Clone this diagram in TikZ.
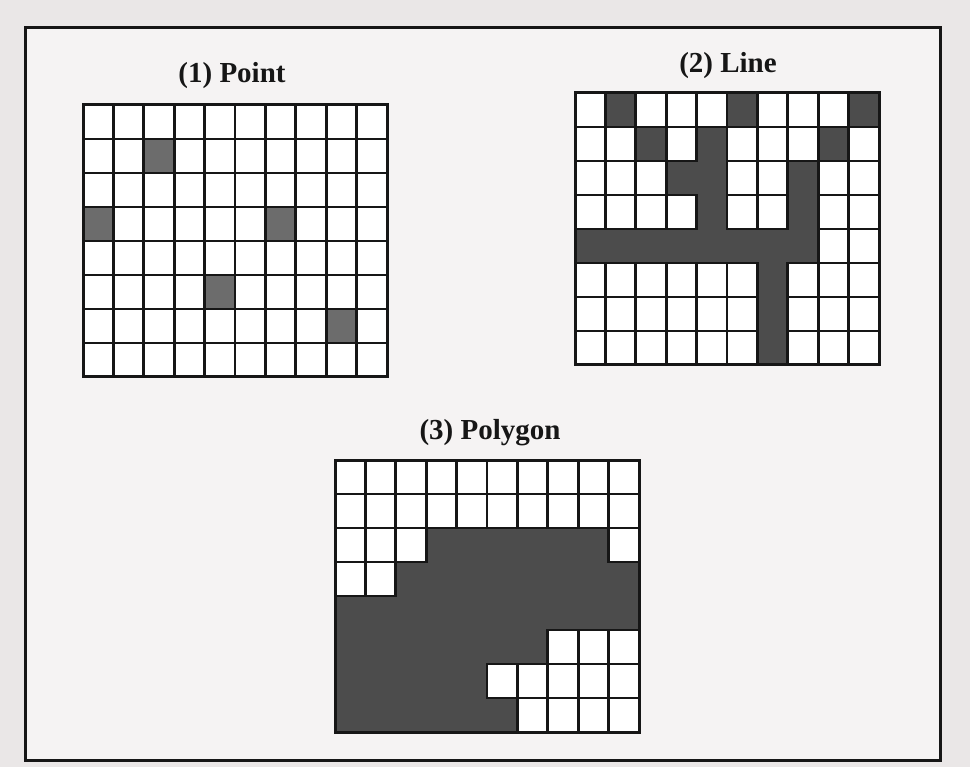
\documentclass[tikz,border=0pt]{standalone}
\usepackage{fontspec}
\setmainfont{Liberation Serif}
\usepackage{tikz}
\usetikzlibrary{positioning}
\definecolor{mypaper}{RGB}{234,231,231}
\definecolor{mysheet}{RGB}{245,243,243}
\definecolor{myshade}{RGB}{76,76,76}
\definecolor{myshadelt}{RGB}{108,108,108}
\definecolor{myink}{RGB}{22,22,22}
\tikzset{
  title/.style={font=\fontsize{29}{32}\selectfont\bfseries, text=myink, inner sep=0pt},
  cell/.style={draw=myink, fill=white, line width=2.8pt},
  darkcell/.style={fill=myshade},
  gridframe/.style={draw=myink, line width=3pt},
  sheet/.style={draw=myink, fill=mysheet, line width=3pt}
}
\newcommand{\cellw}{30.4}
\newcommand{\cellh}{34}

\begin{document}
\begin{tikzpicture}[x=1pt, y=-1pt]
  % paper and frame
  \fill[mypaper] (0,0) rectangle (970,767);
  \useasboundingbox (0,0) rectangle (970,767);
  \draw[sheet] (25,28) rectangle (940,760);

  % Titles
  \node[title] (ptTitle) at (232,76) {(1) Point};
  \node[title] (lnTitle) at (728,66) {(2) Line};
  \node[title] (pgTitle) at (490,433) {(3) Polygon};

  % (1) Point raster
  \begin{scope}[shift={(83,105)}]
    \fill[darkcell, fill=myshadelt] (0,0) rectangle (10*\cellw,8*\cellh);
    \foreach \r/\cols in {0/{0,...,9}, 1/{0,1,3,4,5,6,7,8,9}, 2/{0,...,9},
        3/{1,2,3,4,5,7,8,9}, 4/{0,...,9}, 5/{0,1,2,3,5,6,7,8,9},
        6/{0,1,2,3,4,5,6,7,9}, 7/{0,...,9}}
      \foreach \c in \cols
        \draw[cell] (\c*\cellw,\r*\cellh) rectangle ++(\cellw,\cellh);
    \draw[gridframe] (0,0) rectangle (10*\cellw,8*\cellh);
  \end{scope}

  % (2) Line raster
  \begin{scope}[shift={(575,93)}]
    \fill[darkcell] (0,0) rectangle (10*\cellw,8*\cellh);
    \foreach \r/\cols in {0/{0,2,3,4,6,7,8}, 1/{0,1,3,5,6,7,9},
        2/{0,1,2,5,6,8,9}, 3/{0,1,2,3,5,6,8,9}, 4/{8,9},
        5/{0,1,2,3,4,5,7,8,9}, 6/{0,1,2,3,4,5,7,8,9}, 7/{0,1,2,3,4,5,7,8,9}}
      \foreach \c in \cols
        \draw[cell] (\c*\cellw,\r*\cellh) rectangle ++(\cellw,\cellh);
    \draw[gridframe] (0,0) rectangle (10*\cellw,8*\cellh);
  \end{scope}

  % (3) Polygon raster
  \begin{scope}[shift={(335,460)}]
    \fill[darkcell] (0,0) rectangle (10*\cellw,8*\cellh);
    \foreach \r/\cols in {0/{0,...,9}, 1/{0,...,9}, 2/{0,1,2,9}, 3/{0,1},
        5/{7,8,9}, 6/{5,6,7,8,9}, 7/{6,7,8,9}}
      \foreach \c in \cols
        \draw[cell] (\c*\cellw,\r*\cellh) rectangle ++(\cellw,\cellh);
    \draw[gridframe] (0,0) rectangle (10*\cellw,8*\cellh);
  \end{scope}
\end{tikzpicture}
\end{document}
